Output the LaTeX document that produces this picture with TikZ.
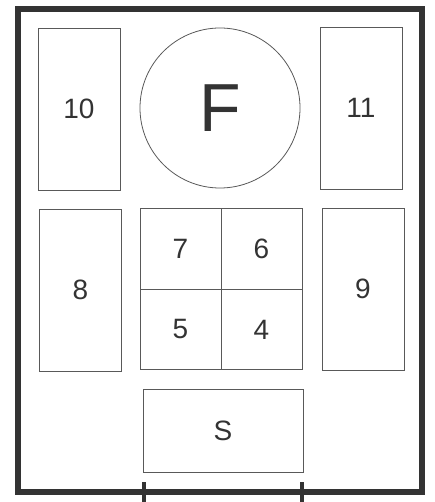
\documentclass[tikz,border=0pt]{standalone}
\usepackage{fontspec}
\setmainfont{Liberation Sans}
\usetikzlibrary{positioning}
\begin{document}
\begin{tikzpicture}[
    x=1pt, y=-1pt,
    every node/.style={font=\fontsize{28}{30}\selectfont, text=black!80},
    bay/.style={rectangle, draw=black!65, line width=0.8pt, minimum width=82pt, minimum height=162pt, inner sep=0pt},
    cell/.style={rectangle, draw=black!65, line width=0.8pt, minimum width=81pt, minimum height=80.5pt, inner sep=0pt},
    table/.style={circle, draw=black!65, line width=0.8pt, minimum size=160pt, inner sep=0pt, font=\fontsize{68}{70}\selectfont},
    bench/.style={rectangle, draw=black!65, line width=0.8pt, minimum width=160pt, minimum height=83pt, inner sep=0pt},
    wall/.style={draw=black!80, line width=5.5pt},
    post/.style={draw=black!80, line width=3.5pt}
]
\useasboundingbox (0,0) rectangle (434,502);

% -------------------------
% Room outline
% -------------------------
    \draw[wall] (18,9) rectangle (422,492);
    \coordinate (p1top) at (144,482);
    \coordinate (p1bot) at (144,502);
    \coordinate (p2top) at (302,482);
    \coordinate (p2bot) at (302,502);
    \draw[post] (p1top) -- (p1bot);
    \draw[post] (p2top) -- (p2bot);

% -------------------------
% Top row
% -------------------------
    \node[bay] (b10) at (79,109) {10};
    \node[table] (f) at (220,108) {F};
    \node[bay] (b11) at (361,108) {11};

% -------------------------
% Middle row
% -------------------------
    \node[bay] (b8) at (80.5,290) {8};
    \node[cell] (c7) at (180.5,249) {7};
    \node[cell] (c6) at (261.5,249) {6};
    \node[cell] (c5) at (180.5,329.5) {5};
    \node[cell] (c4) at (261.5,329.5) {4};
    \node[bay] (b9) at (363,289) {9};

% -------------------------
% Bottom
% -------------------------
    \node[bench] (s) at (223,430.5) {S};
\end{tikzpicture}
\end{document}
